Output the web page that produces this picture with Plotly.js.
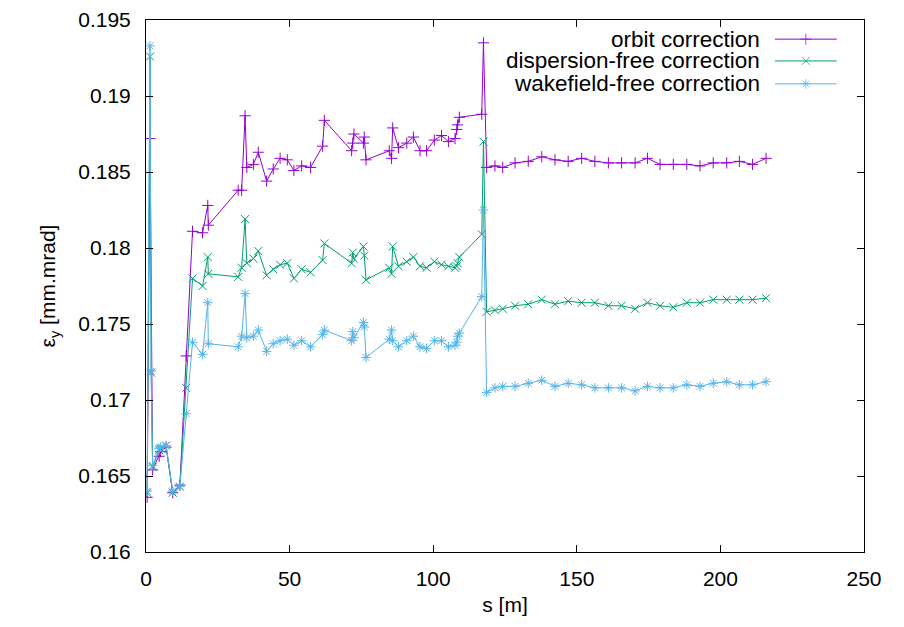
<!DOCTYPE html>
<html>
<head>
<meta charset="utf-8">
<script src="https://cdn.plot.ly/plotly-3.0.1.min.js"></script>
<style>html,body{margin:0;padding:0;background:#fff;}#chart{width:904px;height:627px;}</style>
</head>
<body>
<div id="chart"></div>
<script>
// positions along the beamline s [m]
const sOrbit = [0.4,1.4,2.3,4.6,5.1,7.0,9.3,11.8,14.0,16.2,19.7,21.5,21.7,32.1,33.3,34.5,35.1,37.4,39.1,42.0,
  44.3,46.7,49.2,51.5,54.2,57.3,61.5,62.1,71.6,72.0,72.4,75.7,76.0,76.6,84.7,85.5,85.9,87.9,90.8,93.1,
  95.4,97.7,100.4,102.9,105.3,107.6,108.2,108.5,109.1,116.9,117.5,
  118.6,121.5,124.2,128.5,133.1,137.8,142.4,147.0,151.7,156.3,161.0,165.6,170.3,174.6,179.0,183.6,188.3,192.9,197.5,202.2,206.6,211.2,215.9];
const sCorr = [0.4,1.4,1.8,2.3,4.6,5.1,7.0,9.3,11.8,14.0,16.2,19.7,21.5,21.7,32.1,33.3,34.5,35.1,37.4,39.1,42.0,
  44.3,46.7,49.2,51.5,54.2,57.3,61.5,62.1,71.6,72.0,72.4,75.7,76.0,76.6,84.7,85.5,85.9,87.9,90.8,93.1,
  95.4,97.7,100.4,102.9,105.3,107.6,108.2,108.5,109.1,116.9,117.5,
  118.6,121.5,124.2,128.5,133.1,137.8,142.4,147.0,151.7,156.3,161.0,165.6,170.3,174.6,179.0,183.6,188.3,192.9,197.5,202.2,206.6,211.2,215.9];

const orbitEps = [0.1636,0.1872,0.1654,0.1663,0.1666,0.1669,0.1639,0.1644,0.1729,0.1811,
  0.1810,0.1828,0.1815,0.1838,0.1838,0.1887,0.1853,0.1855,0.1863,0.1844,
  0.1852,0.1859,0.1858,0.1851,0.1854,0.1853,0.1867,0.1884,0.1864,0.1869,
  0.1875,0.1869,0.1873,0.1858,0.1864,0.1859,0.1879,0.1866,0.1869,0.1873,
  0.1864,0.1864,0.1871,0.1874,0.1870,0.1872,0.1878,0.1881,0.1886,0.1888,0.1935,
  0.1853,0.1854,0.1853,0.1856,0.1857,0.1860,0.1858,0.1857,0.1859,0.1857,0.1856,0.1856,0.1856,0.1859,0.1855,0.1855,0.1855,0.1854,0.1856,0.1856,0.1857,0.1855,0.1859];

const dispEps = [0.1639,0.1926,0.1718,0.1656,0.1667,0.1668,0.1670,0.1639,0.1643,0.1708,
  0.1780,0.1775,0.1794,0.1783,0.1781,0.1787,0.1819,0.1790,0.1793,0.1798,
  0.1782,0.1786,0.1789,0.1790,0.1780,0.1786,0.1784,0.1792,0.1803,0.1790,
  0.1797,0.1793,0.1801,0.1795,0.1779,0.1787,0.1783,0.1801,0.1788,0.1791,
  0.1794,0.1788,0.1787,0.1791,0.1789,0.1788,0.1787,0.1788,0.1790,0.1794,
  0.1809,0.1870,
  0.1758,0.1759,0.1760,0.1762,0.1763,0.1766,0.1763,0.1765,0.1764,0.1764,0.1762,0.1762,0.1760,0.1764,0.1762,0.1761,0.1764,0.1764,0.1766,0.1766,0.1766,0.1766,0.1767];

const wakeEps = [0.1640,0.1933,0.1719,0.1657,0.1668,0.1669,0.1670,0.1640,0.1643,0.1691,
  0.1738,0.1730,0.1764,0.1737,0.1735,0.1742,0.1770,0.1741,0.1742,0.1746,
  0.1732,0.1737,0.1739,0.1740,0.1736,0.1739,0.1735,0.1743,0.1746,0.1739,
  0.1745,0.1741,0.1751,0.1748,0.1728,0.1740,0.1746,0.1739,0.1735,0.1739,
  0.1742,0.1735,0.1734,0.1739,0.1739,0.1735,0.1736,0.1738,0.1742,0.1744,
  0.1768,0.1825,
  0.1705,0.1708,0.1709,0.1709,0.1711,0.1713,0.1709,0.1711,0.1710,0.1708,0.1708,0.1708,0.1706,0.1709,0.1708,0.1708,0.1710,0.1709,0.1711,0.1712,0.1710,0.1710,0.1712];

const seriesNames = ["orbit correction","dispersion-free correction","wakefield-free correction"];
const yTickVals = [0.16,0.165,0.17,0.175,0.18,0.185,0.19,0.195];
const yTickText = ["0.16","0.165","0.17","0.175","0.18","0.185","0.19","0.195"];
const xTickVals = [0,50,100,150,200,250];

const colors = ["#9400d3","#009e73","#56b4e9"];
const symbols = ["cross-thin-open","x-thin-open","asterisk-open"];
const FONT = "Liberation Sans, Arial, Helvetica, sans-serif";

function mk(x, y, i) {
  return {x: x, y: y, type: "scatter", mode: "lines+markers", name: seriesNames[i], showlegend: false,
    line: {color: colors[i], width: 1},
    marker: {symbol: symbols[i], size: 8, color: colors[i], line: {color: colors[i], width: 1}}};
}
const traces = [mk(sOrbit, orbitEps, 0), mk(sCorr, dispEps, 1), mk(sCorr, wakeEps, 2)];

// legend key samples (drawn on a hidden overlay axis spanning 0..1)
const keyX0 = 0.876, keyX1 = 0.962, keyRows = [0.964, 0.923, 0.880];
const annotations = [];
for (let i = 0; i < 3; i++) {
  traces.push({x: [keyX0, (keyX0+keyX1)/2, keyX1], y: [keyRows[i], keyRows[i], keyRows[i]],
    xaxis: "x2", yaxis: "y2", type: "scatter", mode: "lines+markers", showlegend: false, hoverinfo: "skip",
    line: {color: colors[i], width: 1},
    marker: {symbol: symbols[i], size: [0, 8, 0], color: colors[i], line: {color: colors[i], width: 1}}});
  annotations.push({xref: "paper", yref: "paper", x: 0.858, y: keyRows[i], xanchor: "right", yanchor: "middle",
    text: seriesNames[i], showarrow: false, font: {family: FONT, size: 22.5, color: "#000"}});
}

const axisCommon = {showgrid: false, zeroline: false, showline: true, linecolor: "#000", linewidth: 1,
  mirror: "ticks", ticks: "inside", ticklen: 7, tickwidth: 1, tickcolor: "#000",
  tickfont: {family: FONT, size: 21, color: "#000"}};

const layout = {
  width: 904, height: 627,
  margin: {l: 146, r: 40, t: 20, b: 75},
  paper_bgcolor: "#fff", plot_bgcolor: "#fff",
  font: {family: FONT, size: 21, color: "#000"},
  xaxis: Object.assign({}, axisCommon, {range: [0, 250], tickvals: xTickVals, ticklabelstandoff: 8,
    title: {text: "s [m]", font: {family: FONT, size: 21}, standoff: 8}}),
  yaxis: Object.assign({}, axisCommon, {range: [0.16, 0.195], tickvals: yTickVals, ticktext: yTickText, ticklabelstandoff: 10,
    title: {text: "ε<sub>y</sub> [mm.mrad]", font: {family: FONT, size: 21}, standoff: 16}}),
  xaxis2: {overlaying: "x", range: [0, 1], visible: false, fixedrange: true},
  yaxis2: {overlaying: "y", range: [0, 1], visible: false, fixedrange: true},
  annotations: annotations,
  showlegend: false
};

Plotly.newPlot("chart", traces, layout, {displayModeBar: false, staticPlot: true});
</script>
</body>
</html>
